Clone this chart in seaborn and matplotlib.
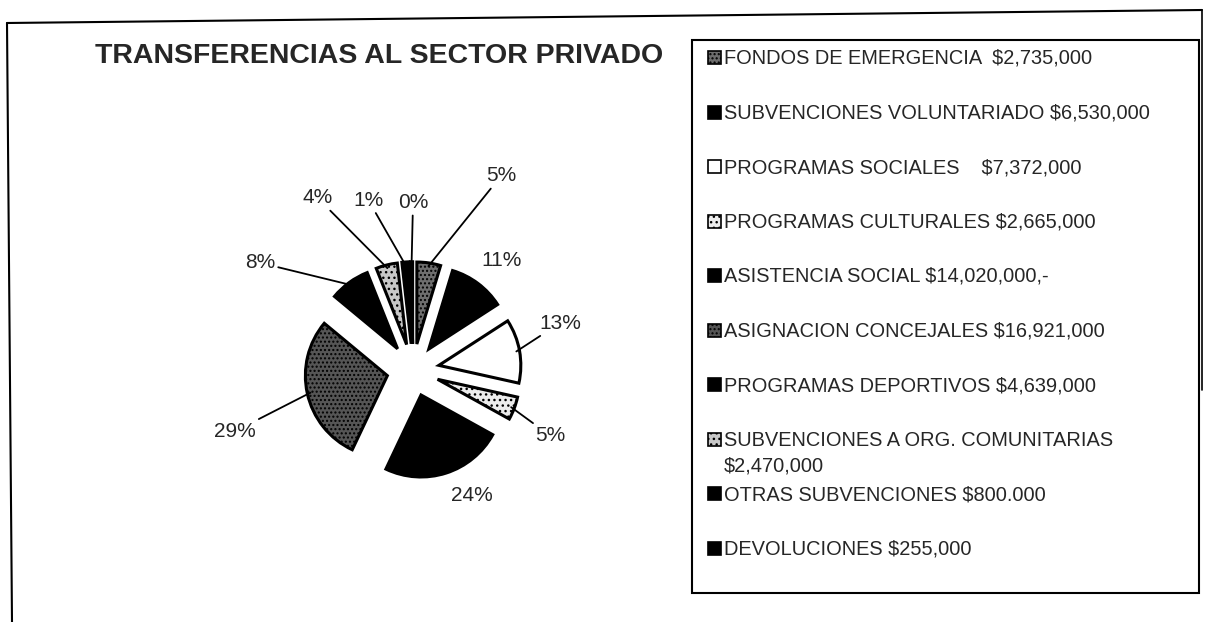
import numpy as np
import matplotlib
matplotlib.use("Agg")
import matplotlib.pyplot as plt
from matplotlib.patches import Rectangle
import seaborn as sns

# Data
categories = [
    "FONDOS DE EMERGENCIA  $2,735,000",
    "SUBVENCIONES VOLUNTARIADO $6,530,000",
    "PROGRAMAS SOCIALES    $7,372,000",
    "PROGRAMAS CULTURALES $2,665,000",
    "ASISTENCIA SOCIAL $14,020,000,-",
    "ASIGNACION CONCEJALES $16,921,000",
    "PROGRAMAS DEPORTIVOS $4,639,000",
    "SUBVENCIONES A ORG. COMUNITARIAS\n$2,470,000",
    "OTRAS SUBVENCIONES $800.000",
    "DEVOLUCIONES $255,000",
]
amounts = [2735000, 6530000, 7372000, 2665000, 14020000,
           16921000, 4639000, 2470000, 800000, 255000]
title = "TRANSFERENCIAS AL SECTOR PRIVADO"

# Styles for the black & white print look
faces = ["#6e6e6e", "black", "white", "#ececec", "black",
         "#555555", "black", "#c8c8c8", "black", "black"]
hatches = ["....", None, None, "...", None, "....", None, "...", None, None]

# label layout: angle (deg) and distance (in radii) from pie centre, leader line or not
lab_angle = [65.6, 51, 17.7, -25.6, -65, 199, 145, 119, 104.7, 90]
lab_dist = [2.6, 1.72, 1.88, 1.86, 1.69, 2.3, 2.28, 2.4, 2.14, 2.04]
lab_line = [True, False, True, True, False, True, True, True, True, True]

sns.set_theme(style="white")
plt.rcParams["font.family"] = ["Liberation Sans", "DejaVu Sans"]
plt.rcParams["hatch.linewidth"] = 1.0

W, H = 1207, 622
fig = plt.figure(figsize=(W / 100, H / 100), dpi=100)
fig.patch.set_facecolor("white")

# overlay in pixel coordinates for frame, title and legend box
ov = fig.add_axes([0, 0, 1, 1])
ov.set_xlim(0, W)
ov.set_ylim(H, 0)
ov.axis("off")
ov.patch.set_visible(False)

# outer frame (scanned page border)
ov.plot([7, 12], [23, H], color="black", lw=1.5)
ov.plot([7, 1202], [23, 10], color="black", lw=1.5)
ov.plot([1202, 1202], [10, 390], color="black", lw=1.2)

ov.text(95, 56, title, fontsize=20.5, fontweight="bold", ha="left", va="center")

# legend box
ov.add_patch(Rectangle((692, 40), 507, 553, fill=False, edgecolor="black", lw=1.5))
y0, dy = 58, 54.5
for i, (lab, fc, ht) in enumerate(zip(categories, faces, hatches)):
    y = y0 + i * dy
    ov.add_patch(Rectangle((708, y - 7), 13, 13, facecolor=fc, edgecolor="black",
                           hatch=ht, lw=1.2))
    ov.text(724, y - 9, lab, fontsize=14.4, ha="left", va="top", linespacing=1.45)

# pie
cx, cy, rpx = 413, 370, 82
half = 200
ax = fig.add_axes([(cx - half) / W, (H - cy - half) / H, 2 * half / W, 2 * half / H])
ax.patch.set_visible(False)

explode = 0.32
wedges, _ = ax.pie(amounts, startangle=90, counterclock=False,
                   explode=[explode] * len(amounts),
                   wedgeprops=dict(edgecolor="black", linewidth=2.2))
for w, fc, ht in zip(wedges, faces, hatches):
    w.set_facecolor(fc)
    if ht:
        w.set_hatch(ht)

L = half / rpx
ax.set_xlim(-L, L)
ax.set_ylim(-L, L)
ax.set_aspect("equal")
ax.axis("off")

total = sum(amounts)
pcts = [f"{round(100 * a / total):.0f}%" for a in amounts]
for w, pct, ang, dist, line in zip(wedges, pcts, lab_angle, lab_dist, lab_line):
    mid = np.deg2rad((w.theta1 + w.theta2) / 2)
    edge = (1 + explode) * 0.97
    xy = (edge * np.cos(mid), edge * np.sin(mid))
    a = np.deg2rad(ang)
    xt = (dist * np.cos(a), dist * np.sin(a))
    ax.annotate(pct, xy=xy, xytext=xt, fontsize=15, ha="center", va="center",
                arrowprops=dict(arrowstyle="-", color="black", lw=1.3,
                                shrinkA=0, shrinkB=0) if line else None)

fig.savefig("out.png", dpi=100, facecolor="white")
